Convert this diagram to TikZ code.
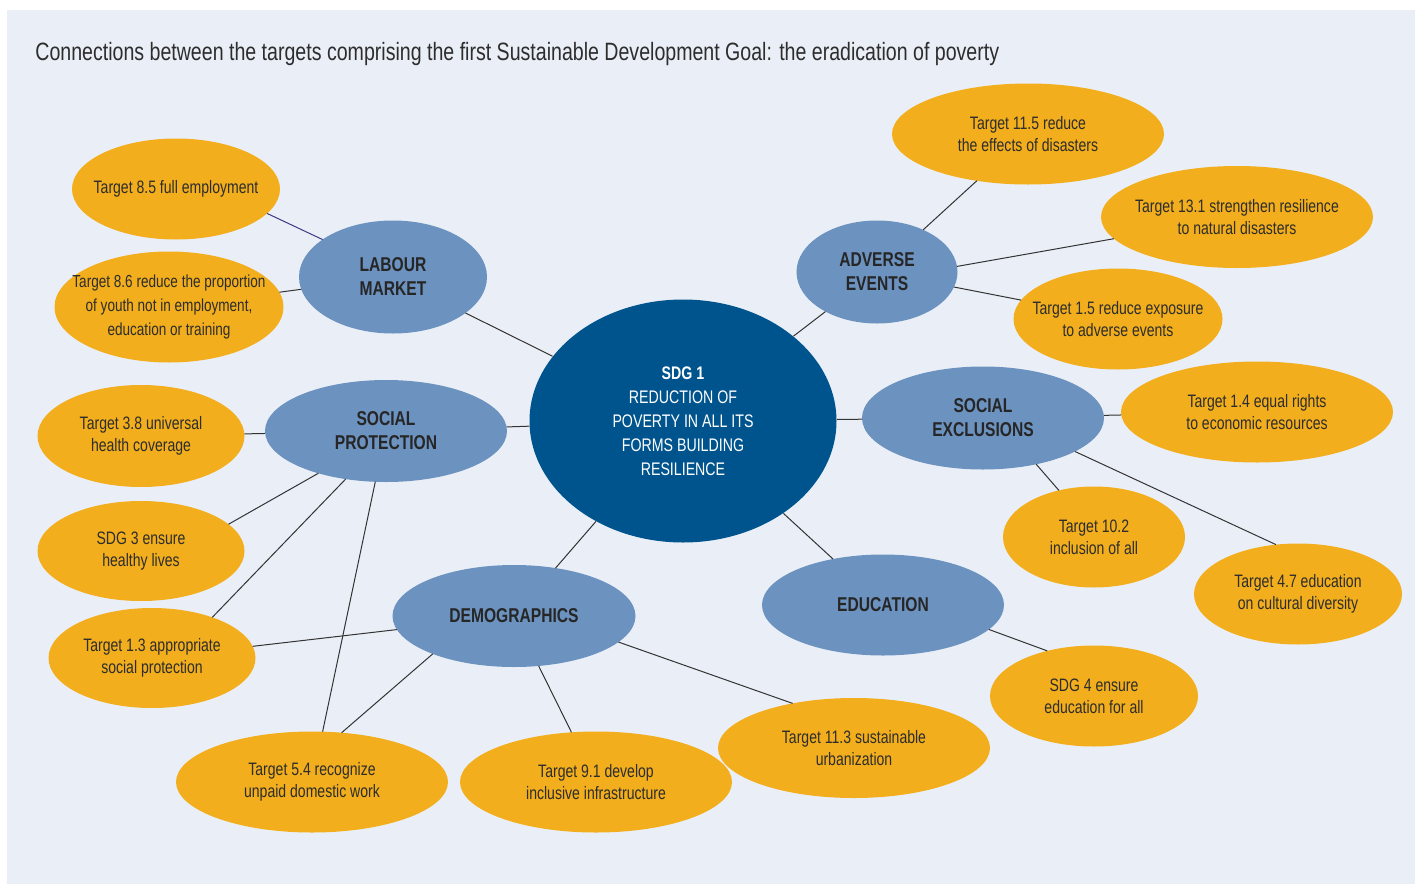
\documentclass[tikz,border=0pt]{standalone}
\usepackage{fontspec}
\setmainfont{Liberation Sans}[FakeStretch=0.78]
\usetikzlibrary{shapes.geometric}
\definecolor{panel}{RGB}{234,239,247}
\definecolor{gold}{RGB}{242,174,28}
\definecolor{midblue}{RGB}{108,146,191}
\definecolor{deepblue}{RGB}{0,84,142}
\definecolor{ink}{RGB}{45,45,45}
\definecolor{violetline}{RGB}{60,58,130}

\begin{document}
\begin{tikzpicture}[x=0.5pt,y=-0.5pt]
	\tikzstyle{target} = [ellipse,fill=gold,inner sep=0pt,outer sep=0pt]
	\tikzstyle{theme}  = [ellipse,fill=midblue,inner sep=0pt,outer sep=0pt]
	\tikzstyle{tcap}   = [align=center,text=ink,font=\fontsize{9}{11}\selectfont]
	\tikzstyle{hcap}   = [align=center,text=black!85,font=\fontsize{10}{12}\selectfont\bfseries]
	\tikzstyle{link}   = [draw=black!80,line width=0.5pt]

	\useasboundingbox (0,0) rectangle (1415,884);
	\fill[panel] (7,10) rectangle (1416,886);

	\node[anchor=base west,inner sep=0pt,text=ink,font=\fontsize{12.55}{14}\selectfont] (title) at (35,60)
		{Connections between the targets comprising the first Sustainable Development Goal: the eradication of poverty};

	% centre
	\node[ellipse,fill=deepblue,inner sep=0pt,minimum width=153.5pt,minimum height=121.5pt,
		label={[align=center,text=white,font=\fontsize{9.1}{12}\selectfont]center:{\textbf{SDG 1}\\REDUCTION OF\\POVERTY IN ALL ITS\\FORMS BUILDING\\RESILIENCE}}] (sdg) at (683,421) {};

	% themes
	\node[theme,minimum width=94pt,minimum height=56.5pt,label={[hcap]center:LABOUR\\MARKET}] (lab) at (393,277) {};
	\node[theme,minimum width=80.5pt,minimum height=51.5pt,label={[hcap]center:ADVERSE\\EVENTS}] (adv) at (877,272) {};
	\node[theme,minimum width=121pt,minimum height=51pt,label={[hcap]center:SOCIAL\\PROTECTION}] (soc) at (386,431) {};
	\node[theme,minimum width=121pt,minimum height=51.5pt,label={[hcap]center:SOCIAL\\EXCLUSIONS}] (exc) at (983,418) {};
	\node[theme,minimum width=121.5pt,minimum height=51pt,label={[hcap]center:DEMOGRAPHICS}] (dem) at (514,616) {};
	\node[theme,minimum width=121pt,minimum height=50.5pt,label={[hcap]center:EDUCATION}] (edu) at (883,605) {};

	% targets
	\node[target,minimum width=104pt,minimum height=50.5pt,label={[tcap]center:Target 8.5 full employment}] (t85) at (176,189) {};
	\node[target,minimum width=114.5pt,minimum height=55.5pt,label={[tcap,font=\fontsize{8.7}{12}\selectfont]center:{Target 8.6 reduce the proportion\\of youth not in employment,\\education or training}}] (t86) at (169,307) {};
	\node[target,minimum width=103.5pt,minimum height=51pt,label={[tcap]center:Target 3.8 universal\\health coverage}] (t38) at (141,436) {};
	\node[target,minimum width=103.5pt,minimum height=50pt,label={[tcap]center:SDG 3 ensure\\healthy lives}] (s3) at (141,551) {};
	\node[target,minimum width=103.5pt,minimum height=50pt,label={[tcap]center:Target 1.3 appropriate\\social protection}] (t13) at (152,658) {};
	\node[target,minimum width=136pt,minimum height=50.5pt,label={[tcap]center:Target 5.4 recognize\\unpaid domestic work}] (t54) at (312,782) {};
	\node[target,minimum width=136pt,minimum height=50.5pt,label={[tcap]center:Target 9.1 develop\\inclusive infrastructure}] (t91) at (596,782) {};
	\node[target,minimum width=136pt,minimum height=50pt,label={[tcap]center:Target 11.3 sustainable\\urbanization}] (t113) at (854,748) {};
	\node[target,minimum width=104pt,minimum height=50.5pt,label={[tcap]center:SDG 4 ensure\\education for all}] (s4) at (1094,696) {};
	\node[target,minimum width=91pt,minimum height=50.5pt,label={[tcap]center:Target 10.2\\inclusion of all}] (t102) at (1094,537) {};
	\node[target,minimum width=104pt,minimum height=50.5pt,label={[tcap]center:Target 4.7 education\\on cultural diversity}] (t47) at (1298,594) {};
	\node[target,minimum width=136pt,minimum height=50.5pt,label={[tcap]center:Target 1.4 equal rights\\to economic resources}] (t14) at (1257,412) {};
	\node[target,minimum width=104.5pt,minimum height=50.5pt,label={[tcap]center:Target 1.5 reduce exposure\\to adverse events}] (t15) at (1118,319) {};
	\node[target,minimum width=136pt,minimum height=51pt,label={[tcap]center:Target 13.1 strengthen resilience\\to natural disasters}] (t131) at (1237,217) {};
	\node[target,minimum width=136pt,minimum height=50.5pt,label={[tcap]center:Target 11.5 reduce\\the effects of disasters}] (t115) at (1028,134) {};

	% links to the centre
	\path[link] (lab) edge (sdg) ;
	\path[link] (adv) edge (sdg) ;
	\path[link] (soc) edge (sdg) ;
	\path[link] (exc) edge (sdg) ;
	\path[link] (dem) edge (sdg) ;
	\path[link] (edu) edge (sdg) ;

	% links to the targets
	\path[link] (t85.-15) edge [draw=violetline] (lab.152) ;
	\path[link] (t86) edge (lab) ;
	\path[link] (t115) edge (adv) ;
	\path[link] (t131.190) edge (adv.4) ;
	\path[link] (t15) edge (adv) ;
	\path[link] (t38) edge (soc) ;
	\path[link] (s3.17) edge (soc.212) ;
	\path[link] (t13.34) edge (soc.230) ;
	\path[link] (t54) edge (soc) ;
	\path[link] (t14) edge (exc) ;
	\path[link] (t102.127) edge (exc.-41) ;
	\path[link] (t47.114) edge (exc.-20) ;
	\path[link] (edu.-13) edge (s4.136) ;
	\path[link] (t13) edge (dem) ;
	\path[link] (t54.59) edge (dem.205) ;
	\path[link] (t91) edge (dem) ;
	\path[link] (t113.144) edge (dem.-14) ;
\end{tikzpicture}
\end{document}
